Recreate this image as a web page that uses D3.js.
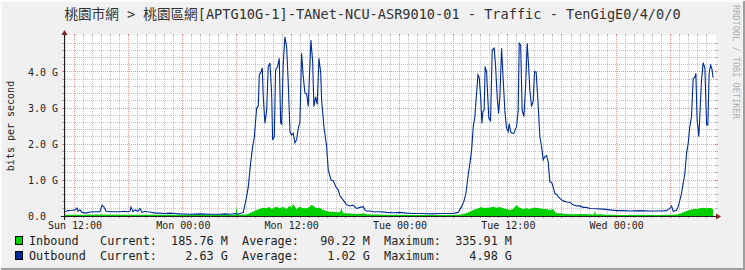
<!DOCTYPE html>
<meta charset="utf-8">
<script src="https://d3js.org/d3.v7.min.js"></script>
<style>
  body { margin: 0; background: #f0f0f0; }
</style>
<div id="traffic_chart"></div>
<script>

var title = "桃園市網 > 桃園區網[APTG10G-1]-TANet-NCU-ASR9010-01 - Traffic - TenGigE0/4/0/0";
var unitLabel = "bits per second";
var watermark = "RRDTOOL / TOBI OETIKER";

// hours counted from Sun 00:00
var startHour = 10.95, endHour = 82.95;
var xLabelHours = [12, 24, 36, 48, 60, 72];
var xLabels = ["Sun 12:00", "Mon 00:00", "Mon 12:00", "Tue 00:00", "Tue 12:00", "Wed 00:00"];

// Gbps
var yMax = 5;
var yTickVals = [0, 1, 2, 3, 4];
var yTickLabels = ["0.0  ", "1.0 G", "2.0 G", "3.0 G", "4.0 G"];

var seriesNames = ["Inbound", "Outbound"];
var seriesColors = ["#00CF00", "#002A97"];
var legendCurrent = [185.76, 2.63];
var legendAverage = [90.22, 1.02];
var legendMaximum = [335.91, 4.98];
var legendUnits = ["M", "G"];

// [hour, Gbps]
var outbound = [
  [10.95,0.12],[11.28,0.15],[11.73,0.16],[12.06,0.17],[12.28,0.22],[12.39,0.13],[12.61,0.17],[12.83,0.10],
  [13.28,0.08],[13.72,0.11],[14.27,0.12],[14.83,0.12],[15.05,0.30],[15.27,0.25],[15.49,0.14],[15.93,0.12],
  [16.49,0.12],[17.04,0.12],[17.59,0.13],[17.82,0.12],[18.15,0.13],[18.26,0.25],[18.48,0.12],[18.70,0.17],
  [19.03,0.13],[19.26,0.21],[19.48,0.10],[19.81,0.13],[20.03,0.12],[20.36,0.11],[20.92,0.08],[21.47,0.08],
  [22.02,0.07],[22.58,0.08],[23.13,0.07],[23.68,0.06],[24.79,0.05],[25.90,0.06],[27.01,0.05],[28.11,0.05],
  [28.67,0.06],[29.22,0.05],[29.78,0.07],[30.11,0.05],[30.33,0.07],[30.70,0.10],[31.07,0.54],[31.25,0.81],
  [31.51,1.47],[31.74,1.93],[31.91,2.17],[32.18,3.00],[32.36,3.05],[32.47,3.92],[32.66,4.00],[32.80,4.11],
  [32.91,3.31],[33.10,2.58],[33.29,2.94],[33.46,4.15],[33.65,4.25],[33.84,3.40],[33.95,2.11],[34.13,2.20],
  [34.28,4.06],[34.50,4.15],[34.68,4.38],[34.84,2.58],[34.95,2.55],[35.12,4.20],[35.31,4.98],[35.50,4.70],
  [35.68,3.69],[35.87,2.34],[36.05,2.25],[36.23,2.30],[36.42,2.03],[36.61,2.12],[36.79,2.44],[36.97,2.60],
  [37.16,4.52],[37.34,3.87],[37.53,3.41],[37.72,3.40],[37.89,3.04],[38.08,4.20],[38.19,4.89],[38.38,4.30],
  [38.52,3.04],[38.71,3.31],[38.89,3.10],[39.08,4.38],[39.27,4.00],[39.38,3.20],[39.63,2.48],[39.93,1.93],
  [40.11,1.28],[40.41,1.00],[40.66,0.98],[40.96,0.81],[41.22,0.72],[41.40,0.56],[41.77,0.44],[42.15,0.31],
  [42.51,0.28],[42.84,0.30],[43.25,0.21],[43.62,0.24],[43.98,0.26],[44.17,0.17],[44.36,0.14],[44.73,0.14],
  [45.06,0.12],[45.83,0.12],[46.57,0.10],[47.27,0.09],[48.05,0.10],[48.79,0.08],[49.49,0.07],[50.26,0.07],
  [51.70,0.06],[52.48,0.07],[53.22,0.07],[53.95,0.07],[54.50,0.10],[54.88,0.26],[55.13,0.40],[55.36,0.63],
  [55.61,1.14],[55.80,1.46],[55.99,1.83],[56.17,2.48],[56.35,2.76],[56.54,3.41],[56.69,3.92],[56.83,3.85],
  [56.99,3.31],[57.13,2.57],[57.24,2.90],[57.38,2.94],[57.49,4.15],[57.65,4.00],[57.76,3.40],[57.90,2.71],
  [58.09,2.65],[58.27,4.61],[58.49,4.66],[58.65,4.15],[58.82,3.31],[58.98,2.85],[59.12,3.30],[59.31,4.66],
  [59.49,3.78],[59.68,2.90],[59.86,2.44],[60.04,2.34],[60.15,2.57],[60.31,2.34],[60.48,2.30],[60.67,2.30],
  [60.82,2.40],[60.97,2.48],[61.15,2.94],[61.26,4.80],[61.42,4.75],[61.59,2.94],[61.78,2.76],[61.97,3.60],
  [62.15,4.80],[62.30,4.19],[62.44,3.50],[62.63,3.04],[62.81,3.20],[62.96,4.01],[63.14,4.00],[63.33,3.22],
  [63.55,2.20],[63.74,1.93],[63.92,1.56],[64.10,1.65],[64.29,1.68],[64.47,1.51],[64.66,0.95],[64.88,0.92],
  [65.02,0.81],[65.21,0.63],[65.40,0.60],[65.58,0.54],[65.77,0.49],[66.13,0.42],[66.51,0.39],[66.87,0.38],
  [67.24,0.31],[67.62,0.28],[67.98,0.28],[68.35,0.24],[68.72,0.24],[69.09,0.21],[69.83,0.20],[70.56,0.19],
  [71.30,0.17],[72.05,0.15],[72.78,0.15],[73.52,0.14],[74.63,0.15],[75.74,0.14],[76.84,0.14],[77.58,0.15],
  [77.95,0.21],[78.14,0.28],[78.32,0.13],[78.69,0.16],[78.87,0.26],[79.06,0.44],[79.24,0.63],[79.42,0.90],
  [79.61,1.18],[79.80,1.74],[79.98,2.02],[80.16,2.48],[80.35,2.76],[80.53,3.82],[80.72,3.85],[80.83,3.96],
  [80.97,2.67],[81.16,2.20],[81.27,2.80],[81.46,3.78],[81.64,4.26],[81.83,4.10],[82.02,2.53],[82.16,2.53],
  [82.30,3.96],[82.46,4.19],[82.60,4.10],[82.74,3.84]
];

// [hour, Mbps]
var inbound = [
  [10.95,35],[13.00,38],[15.00,40],[17.50,35],[20.00,38],[22.50,33],[25.00,32],[27.50,34],[29.85,35],
  [29.96,250],[30.07,35],[30.33,38],[30.70,40],
  [31.07,45],[31.40,75],[31.77,120],[32.14,167],[32.51,195],[32.88,231],[33.25,213],[33.62,250],[33.80,195],
  [33.99,213],[34.36,259],[34.73,213],[35.10,259],[35.47,195],[35.84,287],[36.02,231],[36.21,330],[36.58,195],
  [36.95,259],[37.32,213],[37.69,213],[38.06,259],[38.25,305],[38.43,287],[38.80,213],[39.17,231],[39.54,167],
  [39.91,139],[40.28,120],[40.65,120],[41.02,102],[41.39,102],[41.57,213],[41.76,74],[42.13,74],[42.87,65],
  [43.60,56],[43.98,74],[44.35,50],[45.09,40],[46.57,38],[48.05,32],[49.52,30],[51.00,30],[53.22,30],
  [54.66,32],[55.03,56],[55.40,74],[55.77,120],[56.14,167],[56.51,195],[56.88,231],[57.06,259],[57.25,213],
  [57.62,231],[57.99,231],[58.36,259],[58.73,231],[59.10,250],[59.47,213],[59.84,195],[60.21,167],[60.58,195],
  [60.95,305],[61.14,259],[61.32,231],[61.69,195],[62.06,213],[62.43,195],[62.80,231],[63.17,231],[63.54,213],
  [63.91,195],[64.28,195],[64.65,167],[65.02,195],[65.21,120],[65.39,74],[65.76,74],[66.50,56],[67.24,50],
  [67.98,56],[69.09,48],[69.54,45],[69.65,150],[69.76,45],[70.20,48],[70.93,38],[71.67,36],[72.78,30],
  [74.63,32],[76.48,30],[78.32,32],[79.06,56],[79.43,102],[79.80,139],[80.17,167],[80.54,195],[80.91,195],
  [81.28,213],[81.65,231],[82.02,213],[82.39,231],[82.74,186]
];

var width = 745, height = 270;
var plot = {left: 65, right: 715, top: 36, bottom: 216};
var mono = "'DejaVu Sans Mono', 'Noto Sans CJK TC', monospace";

var svg = d3.select("#traffic_chart")
  .append("svg")
    .attr("width", width)
    .attr("height", height);

var x = d3.scaleLinear().domain([startHour, endHour]).range([plot.left, plot.right]);
var y = d3.scaleLinear().domain([0, yMax]).range([plot.bottom, plot.top]);
var px = function(v) { return Math.floor(v) + 0.5; };

// background + frame shade
svg.append("rect").attr("width", width).attr("height", height).attr("fill", "#f0f0f0");
svg.append("path").attr("d", "M1,269 V1 H744").attr("stroke", "#fcfcfc").attr("stroke-width", 2).attr("fill", "none");
svg.append("path").attr("d", "M744,1 V269 H1").attr("stroke", "#9e9e9e").attr("stroke-width", 2).attr("fill", "none");

// canvas
svg.append("rect")
  .attr("x", plot.left).attr("y", plot.top - 1)
  .attr("width", plot.right - plot.left + 1).attr("height", plot.bottom - plot.top + 1)
  .attr("fill", "#ffffff");

// grid
var minorCol = "rgba(143,143,143,0.55)", majorCol = "rgba(222,79,79,0.6)";
var xMinor = d3.range(Math.ceil(startHour), endHour, 1);
var yMinor = d3.range(1, yMax * 5).map(function(i) { return i / 5; });
var grid = svg.append("g");

function vline(h, col, dash) {
  var gx = px(x(h));
  grid.append("line").attr("x1", gx).attr("x2", gx).attr("y1", plot.bottom + 2).attr("y2", plot.top - 2)
    .attr("stroke", col).attr("stroke-dasharray", dash);
  grid.append("line").attr("x1", gx).attr("x2", gx).attr("y1", plot.bottom).attr("y2", plot.bottom + 2).attr("stroke", col);
  grid.append("line").attr("x1", gx).attr("x2", gx).attr("y1", plot.top - 2).attr("y2", plot.top).attr("stroke", col);
}
function hline(v, col, dash) {
  var gy = px(y(v));
  grid.append("line").attr("x1", plot.left - 2).attr("x2", plot.right + 2).attr("y1", gy).attr("y2", gy)
    .attr("stroke", col).attr("stroke-dasharray", dash);
  grid.append("line").attr("x1", plot.left - 3).attr("x2", plot.left).attr("y1", gy).attr("y2", gy).attr("stroke", col);
  grid.append("line").attr("x1", plot.right).attr("x2", plot.right + 3).attr("y1", gy).attr("y2", gy).attr("stroke", col);
}
xMinor.forEach(function(h) {
  if (h % 6 === 0) vline(h, majorCol, "1,1"); else vline(h, minorCol, "1,1");
});
yMinor.forEach(function(v) {
  if (Math.abs(v - Math.round(v)) < 1e-6) hline(v, majorCol, "1,1"); else hline(v, minorCol, "1,1");
});

// inbound area, outbound line
svg.append("path")
  .datum(inbound)
  .attr("fill", seriesColors[0])
  .attr("d", d3.area()
    .x(function(d) { return x(d[0]); })
    .y0(y(0))
    .y1(function(d) { return y(d[1] / 1000); }));

svg.append("path")
  .datum(outbound)
  .attr("fill", "none")
  .attr("stroke", seriesColors[1])
  .attr("stroke-width", 1.1)
  .attr("d", d3.line()
    .x(function(d) { return x(d[0]); })
    .y(function(d) { return y(d[1]); }));

// axes lines and arrows
var axisCol = "#1f1f1f", arrowCol = "#801f1f";
svg.append("line").attr("x1", plot.left - 0.5).attr("x2", plot.left - 0.5)
  .attr("y1", plot.bottom + 4).attr("y2", plot.top - 4).attr("stroke", axisCol);
svg.append("line").attr("x1", plot.left - 4).attr("x2", plot.right + 4)
  .attr("y1", plot.bottom + 0.5).attr("y2", plot.bottom + 0.5).attr("stroke", axisCol);
svg.append("path").attr("fill", arrowCol)
  .attr("d", "M" + (plot.left - 3.5) + "," + (plot.top - 1) + " L" + (plot.left - 0.5) + "," + (plot.top - 6) +
             " L" + (plot.left + 2.5) + "," + (plot.top - 1) + " Z");
svg.append("path").attr("fill", arrowCol)
  .attr("d", "M" + (plot.right + 1) + "," + (plot.bottom - 2.5) + " L" + (plot.right + 6) + "," + (plot.bottom + 0.5) +
             " L" + (plot.right + 1) + "," + (plot.bottom + 3.5) + " Z");

// tick labels through d3 axes
var xAxis = svg.append("g")
  .attr("transform", "translate(0," + plot.bottom + ")")
  .call(d3.axisBottom(x).tickValues(xLabelHours)
    .tickFormat(function(d, i) { return xLabels[i]; })
    .tickSize(0).tickPadding(6));
xAxis.select(".domain").remove();
xAxis.attr("font-family", mono).attr("font-size", 10);
xAxis.selectAll("text").attr("fill", "#222");

var yAxis = svg.append("g")
  .attr("transform", "translate(" + plot.left + ",0)")
  .call(d3.axisLeft(y).tickValues(yTickVals)
    .tickFormat(function(d, i) { return yTickLabels[i]; })
    .tickSize(0).tickPadding(7));
yAxis.select(".domain").remove();
yAxis.attr("font-family", mono).attr("font-size", 10);
yAxis.selectAll("text").attr("fill", "#222").attr("xml:space", "preserve").style("white-space", "pre");

// unit label
svg.append("text")
  .attr("transform", "translate(13.5,126) rotate(-90)")
  .attr("text-anchor", "middle")
  .attr("font-family", mono).attr("font-size", 10).attr("fill", "#222")
  .text(unitLabel);

// title
svg.append("text")
  .attr("x", 372.5).attr("y", 19)
  .attr("text-anchor", "middle")
  .attr("font-family", mono).attr("font-size", 13.6).attr("fill", "#333")
  .text(title);

// watermark
svg.append("text")
  .attr("transform", "translate(733,5) rotate(90)")
  .attr("font-family", mono).attr("font-size", 8.6).attr("fill", "#b0b0b0")
  .text(watermark);

// legend
function pad(v) { var s = v.toFixed(2); while (s.length < 8) s = " " + s; return s; }
seriesNames.forEach(function(name, i) {
  var rowY = 241 + i * 15;
  svg.append("rect")
    .attr("x", 15.5).attr("y", rowY - 4.5).attr("width", 7).attr("height", 8)
    .attr("fill", seriesColors[i]).attr("stroke", "#000").attr("stroke-width", 1);
  var label = (name + "          ").slice(0, 10) +
    "Current:" + pad(legendCurrent[i]) + " " + legendUnits[i] + "  " +
    "Average:" + pad(legendAverage[i]) + " " + legendUnits[i] + "  " +
    "Maximum:" + pad(legendMaximum[i]) + " " + legendUnits[i];
  svg.append("text")
    .attr("x", 29).attr("y", rowY + 4)
    .attr("xml:space", "preserve").style("white-space", "pre")
    .attr("font-family", mono).attr("font-size", 11.8).attr("fill", "#222")
    .text(label);
});

</script>
